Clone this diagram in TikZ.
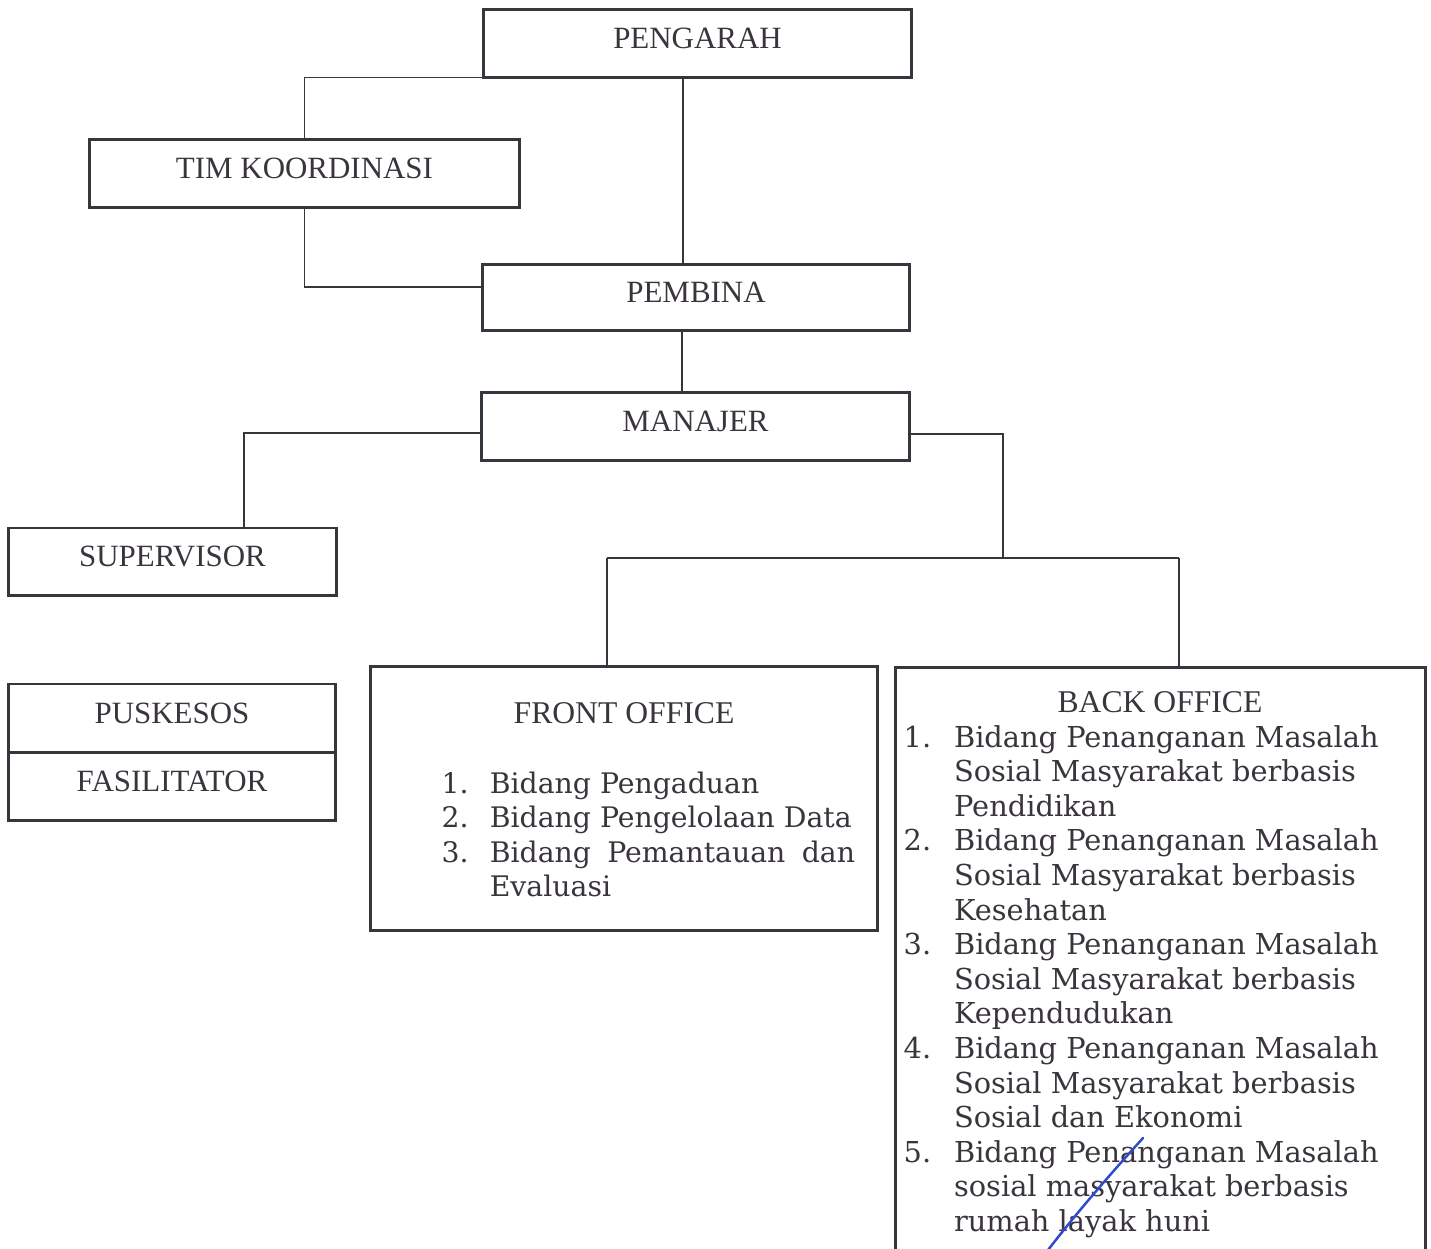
\documentclass[tikz,border=0pt]{standalone}
\usepackage{fontspec}
\usepackage{tikz,color}
\setmainfont{Liberation Serif}
\newfontfamily\listfont{DejaVu Serif}
\definecolor{ink}{RGB}{58,52,60}
\definecolor{pen}{RGB}{45,75,205}
\tikzset{
  box/.style={draw=ink, line width=0.85pt, text=ink, inner sep=0pt,
    font=\fontsize{8.8}{10}\selectfont, text height=6pt, text depth=2.9pt},
  head/.style={text=ink, inner sep=0pt, anchor=base, font=\fontsize{9}{10}\selectfont},
  link/.style={draw=ink, line width=0.5pt},
  listtext/.style={text=ink, inner sep=0pt, anchor=base west,
    font=\listfont\fontsize{8.2}{9.84}\selectfont}
}
\begin{document}
\begin{tikzpicture}[x=0.01cm,y=-0.01cm]
\useasboundingbox (0,0) rectangle (1431,1248);

\node [box, minimum width=4.27cm, minimum height=0.67cm] (pengarah) at (697.5,43.5) {PENGARAH};
\node [box, minimum width=4.29cm, minimum height=0.67cm] (timko) at (304.5,173.5) {TIM KOORDINASI};
\node [box, minimum width=4.26cm, minimum height=0.65cm] (pembina) at (696,297.5) {PEMBINA};
\node [box, minimum width=4.27cm, minimum height=0.67cm] (manajer) at (695.5,426.5) {MANAJER};
\node [box, minimum width=3.27cm, minimum height=0.67cm] (supervisor) at (172.5,561.5) {SUPERVISOR};
\node [box, minimum width=3.26cm, minimum height=0.68cm] (puskesos) at (172,718) {PUSKESOS};
\node [box, minimum width=3.26cm, minimum height=0.68cm] (fasilitator) at (172,786) {FASILITATOR};

\node [box, minimum width=5.06cm, minimum height=2.63cm] (front) at (624,798.5) {};
\node [head] (fotitle) at (624,723) {FRONT OFFICE};
\node [listtext, font=\listfont\fontsize{8.05}{9.84}\selectfont] (folist) at (441,793) {\begin{tabular}[t]{@{}r@{\hspace{6pt}}l@{}}
1. & Bidang Pengaduan\\
2. & Bidang Pengelolaan Data\\
3. & \makebox[3.65cm][s]{Bidang Pemantauan dan}\\
   & Evaluasi
\end{tabular}};

\node [box, minimum width=5.29cm, minimum height=5.84cm] (back) at (1160.5,960) {};
\node [head] (botitle) at (1160,712) {BACK OFFICE};
\node [listtext] (bolist) at (903,747) {\begin{tabular}[t]{@{}r@{\hspace{6.5pt}}l@{}}
1. & Bidang Penanganan Masalah\\
   & Sosial Masyarakat berbasis\\
   & Pendidikan\\
2. & Bidang Penanganan Masalah\\
   & Sosial Masyarakat berbasis\\
   & Kesehatan\\
3. & Bidang Penanganan Masalah\\
   & Sosial Masyarakat berbasis\\
   & Kependudukan\\
4. & Bidang Penanganan Masalah\\
   & Sosial Masyarakat berbasis\\
   & Sosial dan Ekonomi\\
5. & Bidang Penanganan Masalah\\
   & sosial masyarakat berbasis\\
   & rumah layak huni
\end{tabular}};

\coordinate (split) at (1003,558);
\coordinate (fojoin) at (607,558);
\coordinate (bojoin) at (1179,558);

\draw [link] ([yshift=0.01cm]pengarah.south west) -| (timko.north);
\draw [link] ([xshift=-0.145cm]pengarah.south) to ([xshift=-0.13cm]pembina.north);
\draw [link] (timko.south) |- ([yshift=0.105cm]pembina.west);
\draw [link] ([xshift=-0.14cm]pembina.south) to ([xshift=-0.135cm]manajer.north);
\draw [link] ([yshift=-0.065cm]manajer.west) -| ([xshift=0.715cm]supervisor.north);
\draw [link] ([yshift=-0.075cm]manajer.east) -| (split);
\draw [link] (fojoin) to (bojoin);
\draw [link] (fojoin) to (fojoin |- front.north);
\draw [link] (bojoin) to (bojoin |- back.north);

\draw [pen, line width=0.7pt, line cap=round] (1143,1138) .. controls (1105,1180) and (1075,1215) .. (1048,1250);

\end{tikzpicture}
\end{document}
